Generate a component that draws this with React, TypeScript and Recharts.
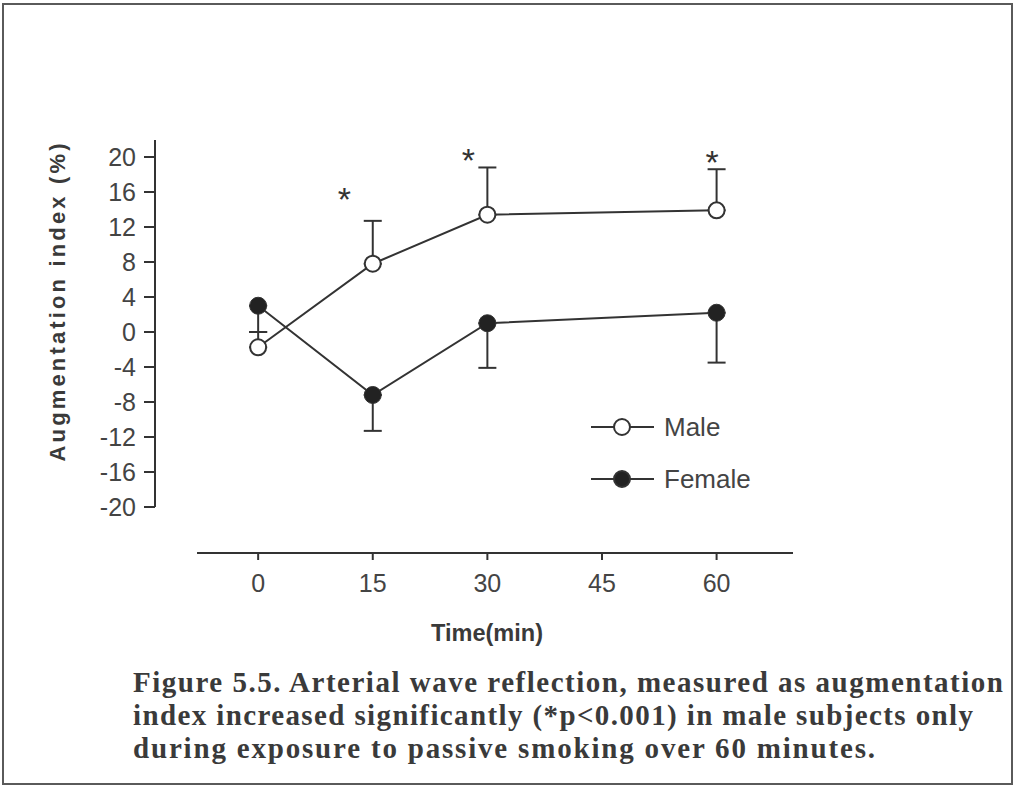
import React from 'react';
import { ComposedChart, Line, XAxis, YAxis, ErrorBar, Scatter, ReferenceLine, Legend } from 'recharts';

// ---- data ----
const times = [0, 15, 30, 60];
const maleMean = [-1.75, 7.8, 13.4, 13.9];
const maleSE = [1.75, 4.9, 5.4, 4.7];
const femaleMean = [3.0, -7.2, 1.0, 2.2];
const femaleSE = [3.0, 4.1, 5.1, 5.7];
const xTicks = [0, 15, 30, 45, 60];
const yTicks = [-20, -16, -12, -8, -4, 0, 4, 8, 12, 16, 20];
const starTimes = [11.3, 27.5, 59.4];
const starLevels = [16.0, 20.4, 20.2];
const seriesNames = ['Male', 'Female'];
const seriesFills = ['#ffffff', '#222222'];
const captionLines = [
  'Figure 5.5. Arterial wave reflection, measured as augmentation',
  'index increased significantly (*p<0.001) in male subjects only',
  'during exposure to passive smoking over 60 minutes.',
];

const rows = times.map((t, i) => ({
  time: t,
  male: maleMean[i],
  maleErr: [0, maleSE[i]],
  female: femaleMean[i],
  femaleErr: [femaleSE[i], 0],
}));
const stars = starTimes.map((t, i) => ({ time: t, star: starLevels[i] }));

const INK = '#333333';
const SANS = '"Liberation Sans", Arial, sans-serif';
const SERIF = '"Liberation Serif", "Times New Roman", serif';

const XTick = (props: any) => {
  const { x, y, payload } = props;
  return (
    <g>
      <line x1={x} x2={x} y1={y + 46} y2={y + 53} stroke={INK} strokeWidth={2} />
      <text x={x} y={y + 85} textAnchor="middle" fontSize={25} fill="#444" fontFamily={SANS}>
        {payload.value}
      </text>
    </g>
  );
};

const YLabel = (props: any) => {
  const vb = props.viewBox || { x: 0, y: 140, width: 155, height: 367 };
  const cx = vb.x + 57;
  const cy = vb.y + vb.height / 2 - 21;
  return (
    <text
      x={cx}
      y={cy}
      dy={8}
      transform={`rotate(-90, ${cx}, ${cy})`}
      textAnchor="middle"
      fontSize={22}
      fontWeight="bold"
      fill="#3a3a3a"
      fontFamily={SANS}
      textLength={318}
      lengthAdjust="spacing"
    >
      Augmentation index (%)
    </text>
  );
};

const XLabel = (props: any) => {
  const vb = props.viewBox || { x: 155, y: 507, width: 638, height: 150 };
  return (
    <text
      x={vb.x + vb.width / 2 + 13}
      y={vb.y + 134}
      textAnchor="middle"
      fontSize={23}
      fontWeight="bold"
      fill="#3a3a3a"
      fontFamily={SANS}
      textLength={112}
      lengthAdjust="spacingAndGlyphs"
    >
      Time(min)
    </text>
  );
};

const StarShape = (props: any) => {
  const { cx, cy } = props;
  return (
    <text x={cx} y={cy + 19} textAnchor="middle" fontSize={34} fill={INK} fontFamily={SANS}>
      *
    </text>
  );
};

const LegendContent = (props: any) => {
  const items = (props.payload || [])
    .filter((p: any) => seriesNames.includes(p.value))
    .sort((a: any, b: any) => seriesNames.indexOf(a.value) - seriesNames.indexOf(b.value));
  return (
    <svg width={200} height={110}>
      {items.map((p: any, i: number) => {
        const idx = seriesNames.indexOf(p.value);
        const y = 27 + i * 52;
        return (
          <g key={p.value}>
            <line x1={11} x2={74} y1={y} y2={y} stroke={INK} strokeWidth={2} />
            <circle cx={42} cy={y} r={8} fill={seriesFills[idx]} stroke={INK} strokeWidth={2} />
            <text x={84} y={y + 9} fontSize={26} fill="#444" fontFamily={SANS}>
              {p.value}
            </text>
          </g>
        );
      })}
    </svg>
  );
};

export default function App() {
  return (
    <div
      style={{
        position: 'absolute',
        left: 0,
        top: 0,
        width: 1013,
        height: 786,
        background: '#ffffff',
        fontFamily: SANS,
      }}
    >
      <ComposedChart
        width={1013}
        height={786}
        data={rows}
        margin={{ top: 140, right: 220, left: 0, bottom: 129 }}
      >
        <XAxis
          type="number"
          dataKey="time"
          domain={[-13.5, 70]}
          ticks={xTicks}
          interval={0}
          allowDataOverflow
          axisLine={false}
          tickLine={false}
          tickSize={0}
          tickMargin={0}
          height={150}
          tick={<XTick />}
          label={<XLabel />}
        />
        <YAxis
          type="number"
          domain={[-20, 21.94]}
          allowDataOverflow
          ticks={yTicks}
          interval={0}
          width={155}
          tickSize={11}
          tickMargin={8}
          axisLine={{ stroke: INK, strokeWidth: 2 }}
          tickLine={{ stroke: INK, strokeWidth: 2 }}
          tick={{ fontSize: 25, fill: '#444', fontFamily: SANS }}
          label={<YLabel />}
        />
        <ReferenceLine
          segment={[
            { x: -8, y: -25.26 },
            { x: 70, y: -25.26 },
          ]}
          stroke={INK}
          strokeWidth={2}
          ifOverflow="visible"
        />
        <Line
          type="linear"
          dataKey="male"
          name="Male"
          stroke={INK}
          strokeWidth={2}
          dot={{ r: 8, fill: '#ffffff', stroke: INK, strokeWidth: 2 }}
          activeDot={false}
          isAnimationActive={false}
        >
          <ErrorBar dataKey="maleErr" direction="y" width={9} stroke={INK} strokeWidth={2} isAnimationActive={false} />
        </Line>
        <Line
          type="linear"
          dataKey="female"
          name="Female"
          stroke={INK}
          strokeWidth={2}
          dot={{ r: 8.5, fill: '#222222', stroke: INK, strokeWidth: 1 }}
          activeDot={false}
          isAnimationActive={false}
        >
          <ErrorBar dataKey="femaleErr" direction="y" width={9} stroke={INK} strokeWidth={2} isAnimationActive={false} />
        </Line>
        <Scatter
          data={stars}
          dataKey="star"
          name="star"
          legendType="none"
          shape={<StarShape />}
          isAnimationActive={false}
        />
        <Legend
          layout="vertical"
          align="center"
          verticalAlign="middle"
          content={<LegendContent />}
          wrapperStyle={{ left: 580, top: 400, width: 200, height: 110 }}
        />
      </ComposedChart>
      <div
        style={{
          position: 'absolute',
          left: 2,
          top: 3,
          width: 1007,
          height: 778,
          border: '2px solid #5a5a5a',
          pointerEvents: 'none',
        }}
      />
      <svg
        width={1013}
        height={786}
        style={{ position: 'absolute', left: 0, top: 0, pointerEvents: 'none' }}
      >
        {captionLines.map((line, i) => (
          <text
            key={i}
            x={133}
            y={692 + i * 33}
            fontSize={29}
            fontWeight="bold"
            fill="#3a3a3a"
            fontFamily={SERIF}
            textLength={[870, 840, 742][i]}
            lengthAdjust="spacing"
          >
            {line}
          </text>
        ))}
      </svg>
    </div>
  );
}
